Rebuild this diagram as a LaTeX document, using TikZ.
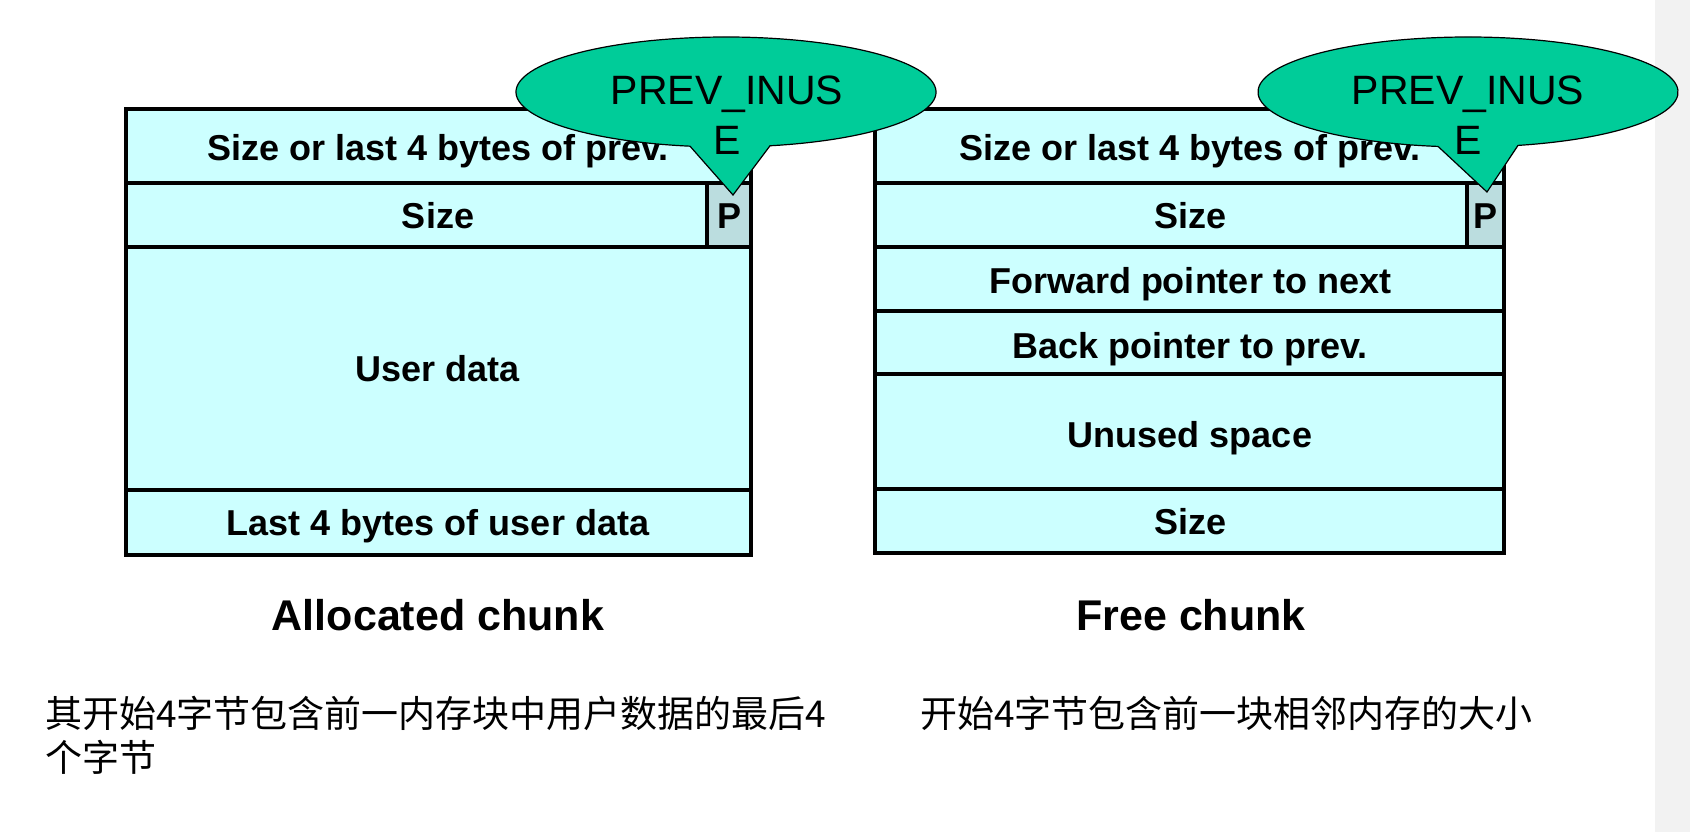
\documentclass[tikz,border=0pt]{standalone}
\usepackage{fontspec}
\setmainfont{Liberation Sans}
\newfontfamily\cjk{Noto Sans CJK SC}
\usepackage{tikz}
\definecolor{chunkfill}{HTML}{CCFFFF}
\definecolor{pfill}{HTML}{BBDDDF}
\definecolor{bubblefill}{HTML}{00CC99}
\def\drow{\draw[fill=chunkfill,line width=1.6pt]}
\def\dpcell{\draw[fill=pfill,line width=1.6pt]}
\def\dbub{\draw[fill=bubblefill,line width=0.6pt]}
\tikzset{
  rowtext/.style={font=\bfseries\fontsize{18}{21}\selectfont,anchor=base},
  titletext/.style={font=\bfseries\fontsize{21.5}{26}\selectfont,anchor=base},
  bubtext/.style={font=\fontsize{20.5}{25}\selectfont,align=center},
  cjktext/.style={font=\cjk\fontsize{18.5}{22}\selectfont,anchor=base west,inner sep=0pt}
}

\begin{document}
\begin{tikzpicture}[x=0.5pt,y=0.5pt]
  \useasboundingbox (0,0) rectangle (1690,832);
  \fill[gray!10] (1655,0) rectangle (1690,832);

  % allocated chunk
  \drow (126,649) rectangle (751,723);
  \drow (126,585) rectangle (751,649);
  \dpcell (707,585) rectangle (751,649);
  \drow (126,342) rectangle (751,585);
  \drow (126,277) rectangle (751,342);
  \node[rowtext] (aprev) at (438,671.5) {Size or last 4 bytes of prev.};
  \node[rowtext] (asize) at (438,603.5) {Size};
  \node[rowtext] (ap)    at (729,603.5) {P};
  \node[rowtext] (auser) at (438,450.5) {User data};
  \node[rowtext] (alast) at (438,296.5) {Last 4 bytes of user data};

  % free chunk
  \drow (875,649) rectangle (1504,723);
  \drow (875,585) rectangle (1504,649);
  \dpcell (1467,585) rectangle (1504,649);
  \drow (875,521) rectangle (1504,585);
  \drow (875,458) rectangle (1504,521);
  \drow (875,343) rectangle (1504,458);
  \drow (875,279) rectangle (1504,343);
  \node[rowtext] (fprev) at (1190,671.5) {Size or last 4 bytes of prev.};
  \node[rowtext] (fsize) at (1190,603.5) {Size};
  \node[rowtext] (fp)    at (1485.5,603.5) {P};
  \node[rowtext] (ffwd)  at (1190,538.5) {Forward pointer to next};
  \node[rowtext] (fback) at (1190,474) {Back pointer to prev.};
  \node[rowtext] (funused) at (1190,385) {Unused space};
  \node[rowtext] (flast) at (1190,297.5) {Size};

  % PREV_INUSE callouts
  \dbub (733,637) -- ([shift={(726,740)}]282.1:210 and 55)
        arc[start angle=282.1,end angle=620.13,x radius=210,y radius=55] -- cycle;
  \dbub (1487,640) -- ([shift={(1468,740)}]283.77:210 and 55)
        arc[start angle=283.77,end angle=621.79,x radius=210,y radius=55] -- cycle;
  \node[bubtext] (abub) at (727,717) {PREV\_INUS\\E};
  \node[bubtext] (fbub) at (1468,717) {PREV\_INUS\\E};

  % captions
  \node[titletext] (atitle) at (438,202) {Allocated chunk};
  \node[titletext] (ftitle) at (1191,202) {Free chunk};
  \node[cjktext] (anote1) at (45,105) {其开始4字节包含前一内存块中用户数据的最后4};
  \node[cjktext] (anote2) at (45,61) {个字节};
  \node[cjktext] (fnote) at (920,105) {开始4字节包含前一块相邻内存的大小};
\end{tikzpicture}
\end{document}
